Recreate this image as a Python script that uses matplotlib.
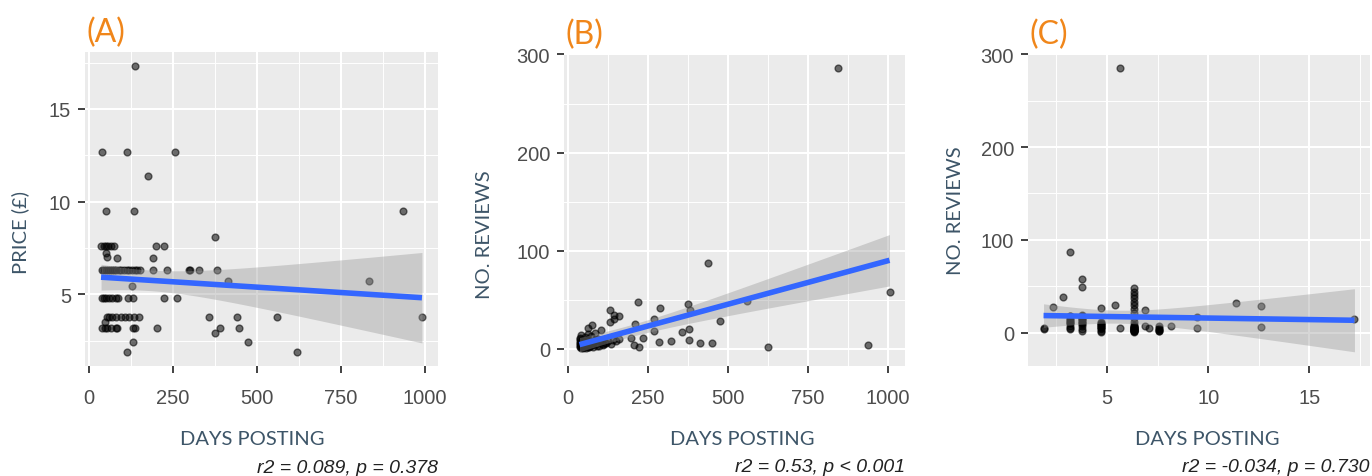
import numpy as np
import matplotlib
matplotlib.use("Agg")
import matplotlib.pyplot as plt
from matplotlib.ticker import AutoMinorLocator

# ---- panel A: days posting vs price ----
a_days = [137,
          40, 112, 257,
          177,
          52, 135, 937,
          374,
          36, 44, 50, 58, 66, 74, 201, 225,
          52, 55, 85, 191,
          38, 44, 50, 56, 62, 68, 74, 80, 88, 96, 104, 112, 120, 128, 136, 144, 151,
          191, 231, 297, 302, 327, 380,
          415, 834,
          129,
          38, 45, 52, 60, 70, 80, 86, 117, 131, 224, 263,
          54, 60, 70, 82, 96, 108, 120, 133, 148, 359, 440, 561, 992,
          49,
          40, 47, 54, 67, 80, 84, 131, 136, 202, 389, 446,
          374,
          131, 474,
          112, 619]
a_price = [17.3,
           12.7, 12.7, 12.7,
           11.4,
           9.5, 9.5, 9.5,
           8.1,
           7.6, 7.6, 7.6, 7.6, 7.6, 7.6, 7.6, 7.6,
           7.2, 7.0, 6.95, 6.95,
           6.3, 6.3, 6.3, 6.3, 6.3, 6.3, 6.3, 6.3, 6.3, 6.3, 6.3, 6.3, 6.3, 6.3, 6.3, 6.3, 6.3,
           6.3, 6.3, 6.3, 6.3, 6.3, 6.3,
           5.7, 5.7,
           5.45,
           4.8, 4.8, 4.8, 4.8, 4.8, 4.8, 4.8, 4.8, 4.8, 4.8, 4.8,
           3.8, 3.8, 3.8, 3.8, 3.8, 3.8, 3.8, 3.8, 3.8, 3.8, 3.8, 3.8, 3.8,
           3.5,
           3.2, 3.2, 3.2, 3.2, 3.2, 3.2, 3.2, 3.2, 3.2, 3.2, 3.2,
           2.9,
           2.4, 2.4,
           1.9, 1.9]

# ---- panel B: days posting vs number of reviews ----
b_days = [844, 438, 1004, 558, 218, 288, 374, 381, 130, 145, 160, 132, 145,
          474, 270, 270, 355, 379, 208, 235, 197, 205, 223, 283, 322, 378,
          411, 449, 626, 937,
          75, 64, 104, 85, 95, 115, 125, 140, 160,
          38, 38, 38, 38, 40, 42, 44, 45, 47, 48, 50, 52, 55, 58, 60, 65,
          70, 75, 80, 88, 92, 100, 110, 120, 135, 150, 62, 72,
          36, 37, 39, 40, 41, 43, 46, 49, 51, 53, 56, 57, 59, 61, 63, 68,
          78, 84, 98, 108]
b_reviews = [286, 87, 58, 49, 48, 42, 46, 40, 40, 34.5, 33, 27, 30,
             28, 30, 18.5, 17.5, 20, 25, 10.5, 10.5, 3.5, 2, 7, 8, 8.5,
             5.4, 5.7, 2, 3.4,
             24.5, 21, 19.5, 16, 10, 6, 8, 9, 10,
             2, 5, 8, 11, 14, 3, 6, 9, 1, 4, 7, 12, 3, 5, 9, 2,
             6, 4, 8, 5, 3, 7, 4, 6, 5, 8, 15, 13,
             3, 6, 10, 1, 4, 7, 2, 5, 3, 8, 1, 6, 4, 2, 10, 3,
             2, 9, 3, 5]

# ---- panel C: price vs number of reviews ----
c_price = [1.86, 1.86, 2.32, 2.82,
           3.15, 3.15, 3.15, 3.15, 3.15, 3.15, 3.15, 3.15, 3.15, 3.15, 3.15, 3.15,
           3.76, 3.76, 3.76, 3.76, 3.76, 3.76, 3.76, 3.76, 3.76, 3.76, 3.76, 3.76, 3.76, 3.76,
           4.72, 4.72, 4.72, 4.72, 4.72, 4.72, 4.72, 4.72, 4.72, 4.72, 4.72, 4.72,
           5.41, 5.66, 5.66,
           6.32, 6.32, 6.32, 6.32, 6.32, 6.32, 6.32, 6.32, 6.32, 6.32, 6.32, 6.32, 6.32,
           6.32, 6.32, 6.32, 6.32, 6.32, 6.32, 6.32, 6.32, 6.32, 6.32, 6.32, 6.32, 6.32,
           6.88, 6.88, 7.06, 7.56, 7.56, 7.56, 7.56, 7.56, 7.56, 8.14,
           9.46, 9.46, 11.36, 12.63, 12.63, 17.23]
c_reviews = [3.6, 5.5, 27.5, 38.5,
             86.5, 18, 14, 10, 7, 5, 3.6, 14, 16, 12, 18, 10,
             57.6, 48.7, 19.4, 15, 10, 7, 4, 1.8, 15, 12, 18, 9, 16, 13,
             26.5, 8.8, 6, 4, 2, 0.5, 8, 10, 6, 12, 9, 5,
             30, 5.3, 285,
             47.7, 44, 40.5, 37, 33.5, 30, 25, 21, 16, 12, 8.8, 5.3, 1.8,
             2, 3, 4, 5, 6, 7, 3, 2, 4, 1, 5, 3, 6,
             24.8, 7, 5.3, 1.8, 4, 7, 2, 3, 5, 7.6,
             4.6, 17, 32.5, 28.3, 6, 14.2]

stats = ["r2 = 0.089, p = 0.378", "r2 = 0.53, p < 0.001", "r2 = -0.034, p = 0.730"]

PANEL_BG = "#EBEBEB"
LABEL_COL = "#3D5568"
ORANGE = "#F0861A"

W, H = 1372, 477
fig = plt.figure(figsize=(W / 100, H / 100), dpi=100)


def t975(df):
    # Cornish-Fisher approximation of the 97.5% t quantile
    z = 1.959964
    return z + (z**3 + z) / (4 * df) + (5 * z**5 + 16 * z**3 + 3 * z) / (96 * df**2)


def smooth(ax, x, y):
    x = np.asarray(x, float); y = np.asarray(y, float)
    n = len(x)
    b, a = np.polyfit(x, y, 1)
    xs = np.linspace(x.min(), x.max(), 100)
    fit = a + b * xs
    s = np.sqrt(np.sum((y - (a + b * x))**2) / (n - 2))
    se = s * np.sqrt(1 / n + (xs - x.mean())**2 / np.sum((x - x.mean())**2))
    t = t975(n - 2)
    ax.fill_between(xs, fit - t * se, fit + t * se, color="#999999", alpha=0.4, lw=0, zorder=3)
    ax.plot(xs, fit, color="#3366FF", lw=4, zorder=4, solid_capstyle="butt")


def panel(box, x, y, tag, ylabel, xticks, yticks, stat, xlab_x, ylab_xy):
    l, r, t, b = box
    ax = fig.add_axes([l / W, (H - b) / H, (r - l) / W, (b - t) / H])
    ax.set_facecolor(PANEL_BG)
    ax.scatter(x, y, s=24, color="black", alpha=0.55, linewidths=1, zorder=2)
    smooth(ax, x, y)
    ax.set_xticks(xticks)
    ax.set_yticks(yticks)
    ax.xaxis.set_minor_locator(AutoMinorLocator(2))
    ax.yaxis.set_minor_locator(AutoMinorLocator(2))
    ax.grid(which="major", color="white", lw=1.5, zorder=0)
    ax.grid(which="minor", color="white", lw=0.7, zorder=0)
    ax.set_axisbelow(True)
    for sp in ax.spines.values():
        sp.set_visible(False)
    ax.tick_params(which="major", length=5, width=1.3, color="#333333",
                   labelsize=14.5, labelcolor="#4D4D4D", pad=5)
    ax.tick_params(axis="x", which="major", pad=11)
    ax.tick_params(which="minor", length=0)
    for lab in ax.get_xticklabels() + ax.get_yticklabels():
        lab.set_family("Liberation Sans")
    ax.set_xlabel("DAYS POSTING", family="Lato", fontsize=14.5, color=LABEL_COL)
    ax.set_ylabel(ylabel, family="Lato", fontsize=14.5, color=LABEL_COL)
    ax.xaxis.set_label_coords(xlab_x, -0.205)
    ax.yaxis.set_label_coords(*ylab_xy)
    ax.text(0.003, 1.065, tag, transform=ax.transAxes, family="Lato", fontsize=23,
            color=ORANGE, ha="left", va="center")
    ax.text(1.0, -0.322, stat, transform=ax.transAxes, family="Liberation Sans",
            style="italic", fontsize=14, color="#222222", ha="right", va="center")
    return ax


panel((85, 438, 53, 367), a_days, a_price, "(A)", "PRICE (£)",
      [0, 250, 500, 750, 1000], [5, 10, 15], stats[0], 0.4745, (-0.159, 0.427))
panel((564, 905, 55, 367), b_days, b_reviews, "(B)", "NO. REVIEWS",
      [0, 250, 500, 750, 1000], [0, 100, 200, 300], stats[1], 0.522, (-0.209, 0.424))
panel((1028, 1370, 55, 367), c_price, c_reviews, "(C)", "NO. REVIEWS",
      [5, 10, 15], [0, 100, 200, 300], stats[2], 0.525, (-0.187, 0.5))

fig.savefig("out.png", dpi=100, facecolor="white")
